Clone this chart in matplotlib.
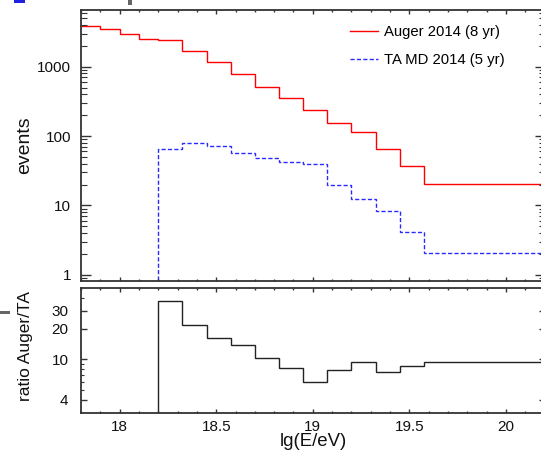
import matplotlib
matplotlib.use("Agg")
import matplotlib.pyplot as plt
from matplotlib.patches import Rectangle
from matplotlib.ticker import FixedLocator, LogLocator, MultipleLocator, NullFormatter
import numpy as np

plt.rcParams.update({'font.family': 'Liberation Sans', 'font.size': 11})

# bin edges in lg(E/eV)
edges = [17.8, 17.9, 18.0, 18.1, 18.2, 18.325, 18.45, 18.575, 18.7, 18.825,
         18.95, 19.075, 19.2, 19.325, 19.45, 19.575, 20.2]
ta_edges = edges[4:]

auger = [3900, 3490, 2930, 2480, 2400, 1700, 1170, 778, 505, 358, 240, 155,
         116, 64.6, 36.8, 20.2]
ta = [64.6, 78.9, 72.8, 57.7, 48, 42, 39.7, 19.8, 12.4, 8.3, 4.2, 2.05]
ratio = [37.3, 21.7, 16.1, 14.0, 10.4, 8.2, 5.96, 7.8, 9.35, 7.6, 8.7, 9.4]

W, H = 541, 455
fig = plt.figure(figsize=(W / 100, H / 100), dpi=100)

def px_axes(x0, y0, x1, y1):
    return fig.add_axes([x0 / W, 1 - y1 / H, (x1 - x0) / W, (y1 - y0) / H])

ax1 = px_axes(81, 10, 544.6, 280.5)
ax2 = px_axes(81, 288.3, 544.6, 412.7)

ax1.stairs(auger, edges, color='red', lw=1.0, baseline=None, label='Auger 2014 (8 yr)')
ax1.stairs(ta, ta_edges, color='#2a2aff', lw=1.0, baseline=0.1,
           linestyle=(0, (3, 1.6)), label='TA MD 2014 (5 yr)')
ax2.stairs(ratio, ta_edges, color='#222222', lw=1.0, baseline=1.0)

for ax in (ax1, ax2):
    ax.set_xlim(17.8, 20.2)
    ax.set_yscale('log')
    ax.xaxis.set_major_locator(MultipleLocator(0.5))
    ax.xaxis.set_minor_locator(MultipleLocator(0.1))
    ax.tick_params(which='both', direction='in', top=True, right=True,
                   color='#333333', labelcolor='#111111')
    ax.tick_params(axis='x', which='major', length=2.9, width=1.0)
    ax.tick_params(axis='x', which='minor', length=1.7, width=1.0)
    for s in ax.spines.values():
        s.set_color('#333333')
        s.set_linewidth(1.3)

ax1.set_ylim(0.83, 6560)
ax1.yaxis.set_major_locator(FixedLocator([1, 10, 100, 1000]))
ax1.yaxis.set_major_formatter(plt.FuncFormatter(lambda v, p: f"{v:.0f}"))
ax1.yaxis.set_minor_locator(LogLocator(subs=np.arange(2, 10)))
ax1.yaxis.set_minor_formatter(NullFormatter())
ax1.tick_params(axis='y', which='major', length=7, width=1.0, pad=7)
ax1.tick_params(axis='y', which='minor', length=4, width=0.8)
ax1.tick_params(axis='x', labelbottom=False)

ax2.set_ylim(3, 50)
ax2.yaxis.set_major_locator(FixedLocator([4, 10, 20, 30]))
ax2.yaxis.set_major_formatter(plt.FuncFormatter(lambda v, p: f"{v:.0f}"))
ax2.yaxis.set_minor_locator(FixedLocator([5, 6, 7, 8, 9, 40]))
ax2.yaxis.set_minor_formatter(NullFormatter())
ax2.tick_params(axis='y', which='major', length=4.5, width=1.0, pad=9)
ax2.tick_params(axis='y', which='minor', length=2.4, width=0.8)
ax2.tick_params(axis='x', pad=5)
ax2.xaxis.set_major_formatter(plt.FuncFormatter(lambda v, p: f"{v:g}"))

ax1.legend(loc='upper left', bbox_to_anchor=(350 / W, 1 - 25 / H),
           bbox_transform=fig.transFigure, frameon=False, fontsize=10.7,
           handlelength=1.88, handletextpad=0.4, labelspacing=0.95,
           borderpad=0, borderaxespad=0)

fig.text(25 / W, 1 - 145 / H, 'events', rotation=90, ha='center', va='center',
         fontsize=14, color='#111111')
fig.text(25.5 / W, 1 - 346 / H, 'ratio Auger/TA', rotation=90, ha='center',
         va='center', fontsize=12.5, color='#111111')
fig.text(313.5 / W, 1 - 442 / H, 'lg(E/eV)', ha='center', va='center',
         fontsize=13.4, color='#111111')

# bits of neighbouring panels at the edges
fig.add_artist(Rectangle((14 / W, 1 - 3 / H), 11 / W, 3 / H,
                         transform=fig.transFigure, color='#2020e0', lw=0))
fig.add_artist(Rectangle((128 / W, 1 - 5 / H), 4 / W, 5 / H,
                         transform=fig.transFigure, color='#666666', lw=0))
fig.add_artist(Rectangle((0, 1 - 314 / H), 10 / W, 3 / H,
                         transform=fig.transFigure, color='#666666', lw=0))

fig.savefig('out.png', dpi=100)
